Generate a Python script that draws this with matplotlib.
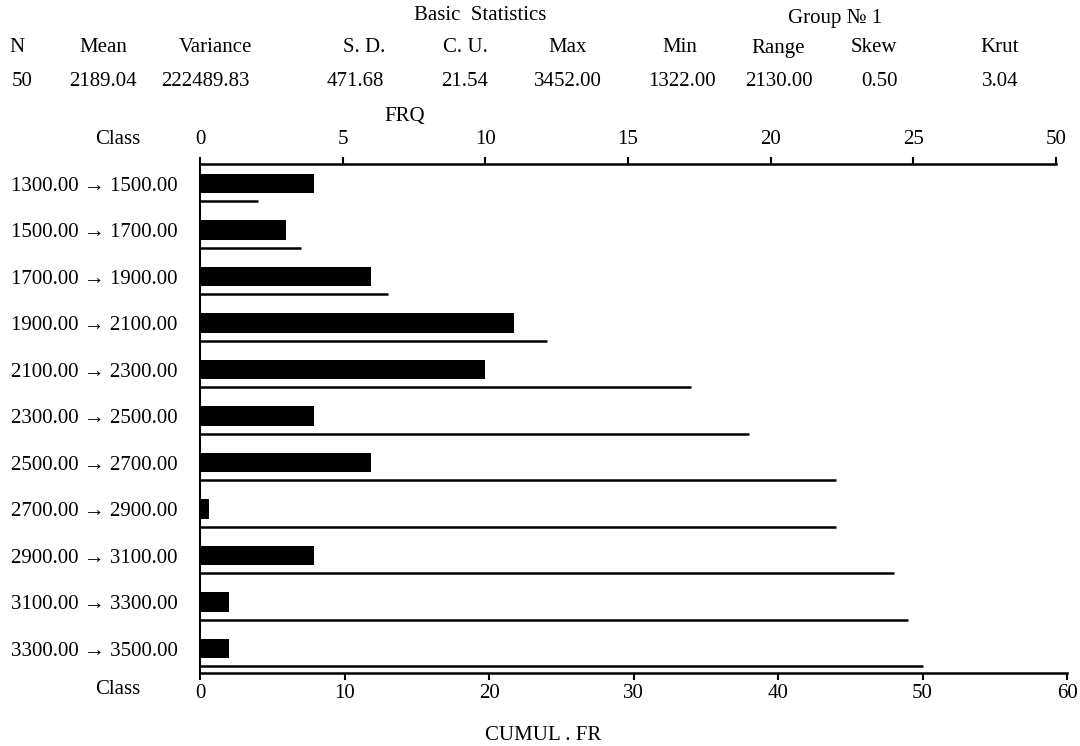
import matplotlib
matplotlib.use("Agg")
import matplotlib.pyplot as plt

plt.rcParams['font.family'] = ['Liberation Serif', 'DejaVu Serif']

# ---- data ----
classes = ["1300.00 → 1500.00", "1500.00 → 1700.00", "1700.00 → 1900.00",
           "1900.00 → 2100.00", "2100.00 → 2300.00", "2300.00 → 2500.00",
           "2500.00 → 2700.00", "2700.00 → 2900.00", "2900.00 → 3100.00",
           "3100.00 → 3300.00", "3300.00 → 3500.00"]
frq = [4, 3, 6, 11, 10, 4, 6, 0, 4, 1, 1]
cumul = [4, 7, 13, 24, 34, 38, 44, 44, 48, 49, 50]

stat_names = ["N", "Mean", "Variance", "S. D.", "C. U.", "Max", "Min", "Range", "Skew", "Krut"]
stat_values = ["50", "2189.04", "222489.83", "471.68", "21.54", "3452.00", "1322.00", "2130.00", "0.50", "3.04"]

frq_ticks = [0, 5, 10, 15, 20, 25, 30]
frq_ticklabels = ["0", "5", "10", "15", "20", "25", "50"]
cum_ticks = [0, 10, 20, 30, 40, 50, 60]

W, H = 1080, 746
fig = plt.figure(figsize=(W / 100, H / 100), dpi=100)

def fx(px):
    return px / W

def fy(py):
    return 1 - py / H

ax_left, ax_right, ax_top, ax_bot = 200, 1067, 164, 673
ax = fig.add_axes([fx(ax_left), fy(ax_bot), fx(ax_right - ax_left), (ax_bot - ax_top) / H])

row0, rowstep = 183.7, 46.5
ax.set_ylim((ax_bot - row0) / rowstep, (ax_top - row0) / rowstep)
ax.set_xlim(0, 60)

fs = 15

# cumulative lines (bottom scale)
n = len(classes)
ys = list(range(n))
line_off = 0.38
for i in ys:
    ax.plot([0, cumul[i]], [i + line_off, i + line_off], color='black', lw=1.8,
            solid_capstyle='butt')

ax.set_yticks(ys)
ax.set_yticklabels(classes, fontsize=fs)
ax.tick_params(axis='y', length=0, pad=16)
ax.set_xticks(cum_ticks)
ax.set_xticklabels([str(t) for t in cum_ticks], fontsize=fs)
ax.tick_params(axis='x', direction='out', length=5, width=1.5, pad=3)
for s in ['right', 'top']:
    ax.spines[s].set_visible(False)
ax.spines['left'].set_linewidth(1.5)
ax.spines['bottom'].set_linewidth(1.8)
ax.spines['bottom'].set_bounds(0, 60)

# frequency bars (top scale)
ax2 = ax.twiny()
top_end_px = 1056
ax2.set_xlim(0, 30 * (ax_right - ax_left) / (top_end_px - ax_left))
ax2.set_ylim(ax.get_ylim())
bar_w = [max(v, 0.3) for v in frq]
ax2.barh(ys, bar_w, height=0.42, color='black', left=0)
ax2.set_xticks(frq_ticks)
ax2.set_xticklabels(frq_ticklabels, fontsize=fs)
ax2.tick_params(axis='x', direction='out', length=5, width=1.5, pad=6)
for s in ['right', 'bottom', 'left']:
    ax2.spines[s].set_visible(False)
ax2.spines['top'].set_linewidth(1.8)
ax2.spines['top'].set_bounds(0, 30)

# header texts
fig.text(fx(480), fy(16), "Basic  Statistics", ha='center', va='center', fontsize=fs)
fig.text(fx(835), fy(18), "Group № 1", ha='center', va='center', fontsize=fs)
name_x = [17, 103, 215, 364, 465, 568, 680, 778, 874, 1000]
val_x = [22, 103, 205, 355, 465, 568, 682, 779, 880, 1000]
for nm, x in zip(stat_names, name_x):
    fig.text(fx(x), fy(48), nm, ha='center', va='center', fontsize=fs)
for v, x in zip(stat_values, val_x):
    fig.text(fx(x), fy(81), v, ha='center', va='center', fontsize=fs)

fig.text(fx(405), fy(117), "FRQ", ha='center', va='center', fontsize=fs)
fig.text(fx(118), fy(139), "Class", ha='center', va='center', fontsize=fs)
fig.text(fx(118), fy(689), "Class", ha='center', va='center', fontsize=fs)
fig.text(fx(543), fy(735), "CUMUL . FR", ha='center', va='center', fontsize=fs)

fig.savefig("out.png", dpi=100)
